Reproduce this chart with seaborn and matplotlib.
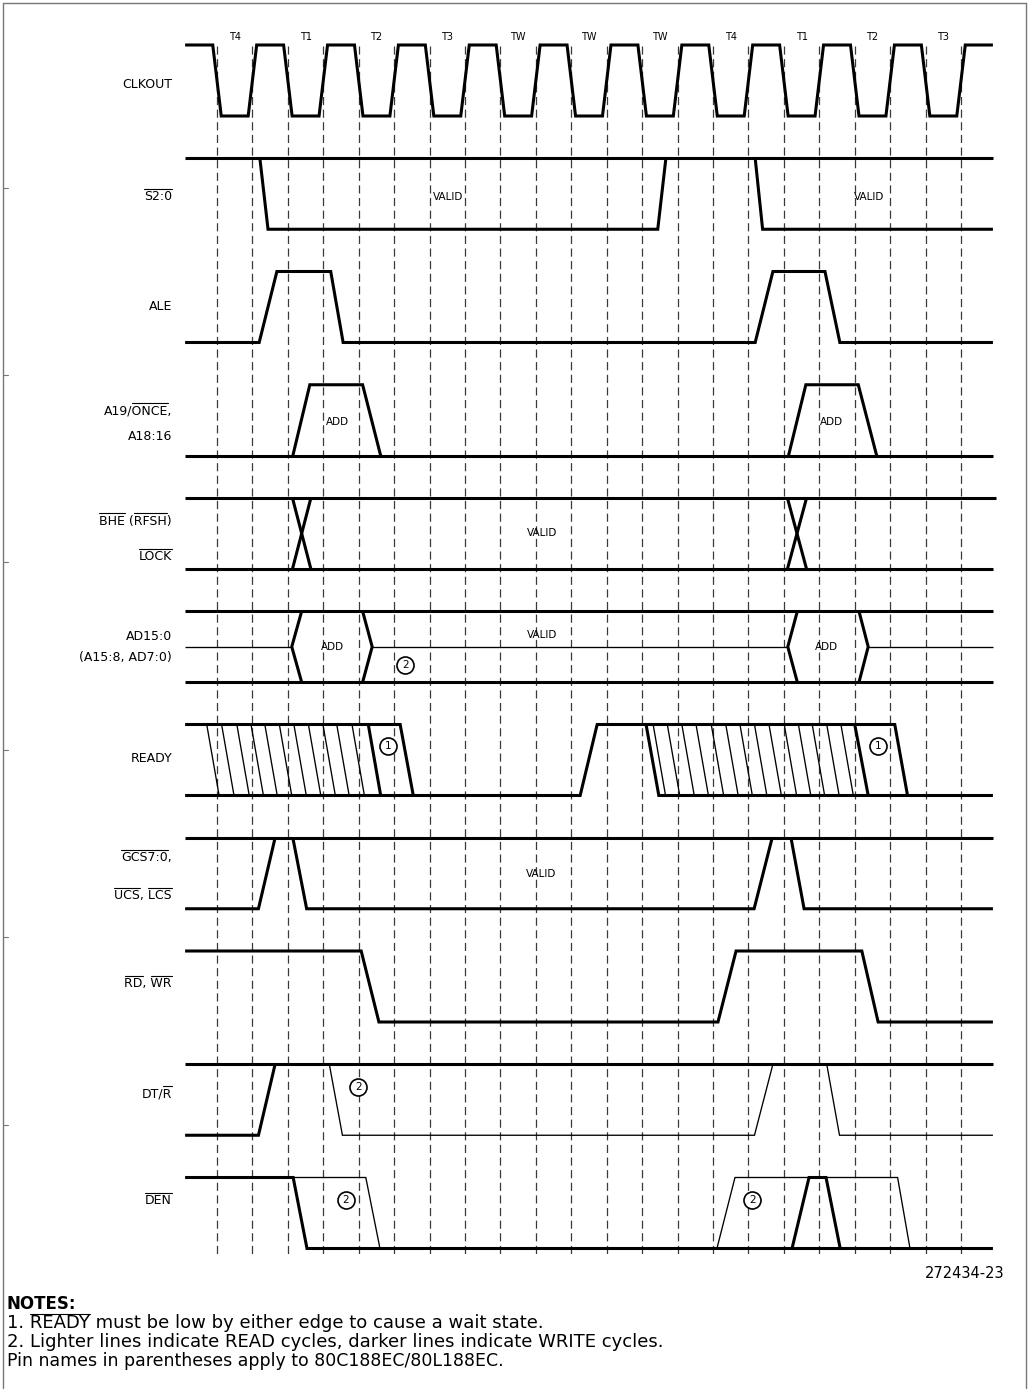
import matplotlib
matplotlib.use("Agg")
import matplotlib.pyplot as plt
import matplotlib.transforms as mtransforms
from matplotlib.lines import Line2D
import pandas as pd
import seaborn as sns

W, H = 1029, 1391

# ------------------------------------------------------------
# time axis in half clock periods, 0 = first dashed line
# ------------------------------------------------------------
T_START, T_END = -0.9, 21.9
DASHED_AT = [0, 1, 2, 3, 4, 5, 6, 7, 8, 9, 10, 11, 12, 13, 14, 15, 16, 17, 18, 19, 20, 21]
CLK_EDGES = DASHED_AT
PHASE_NAMES = ["T4", "T1", "T2", "T3", "TW", "TW", "TW", "T4", "T1", "T2", "T3"]
PHASE_AT = [0.5, 2.5, 4.5, 6.5, 8.5, 10.5, 12.5, 14.5, 16.5, 18.5, 20.5]

# waveforms: segments of (t, level), level 1 = high, 0 = low, 0.5 = mid
S20_THICK = [[(T_START, 1), (T_END, 1)],
             [(1.21, 1), (1.44, 0), (12.44, 0), (12.67, 1)],
             [(15.19, 1), (15.40, 0), (T_END, 0)]]

ALE_THICK = [[(T_START, 0), (1.19, 0), (1.69, 1), (3.21, 1), (3.56, 0),
              (15.19, 0), (15.69, 1), (17.16, 1), (17.58, 0), (T_END, 0)]]

A19_THICK = [[(T_START, 0), (T_END, 0)],
             [(2.14, 0), (2.62, 1), (4.11, 1), (4.62, 0)],
             [(16.13, 0), (16.62, 1), (18.10, 1), (18.62, 0)]]

BHE_THICK = [[(T_START, 1), (22.0, 1)], [(T_START, 0), (T_END, 0)],
             [(2.13, 0), (2.65, 1)], [(2.13, 1), (2.65, 0)],
             [(16.10, 0), (16.64, 1)], [(16.10, 1), (16.64, 0)]]

AD_THICK = [[(T_START, 1), (T_END, 1)], [(T_START, 0), (T_END, 0)],
            [(2.39, 1), (2.11, 0.5), (2.39, 0)], [(4.11, 1), (4.38, 0.5), (4.11, 0)],
            [(16.38, 1), (16.11, 0.5), (16.38, 0)], [(18.12, 1), (18.38, 0.5), (18.12, 0)]]
AD_THIN = [[(T_START, 0.5), (2.11, 0.5)], [(4.38, 0.5), (16.11, 0.5)],
           [(18.38, 0.5), (T_END, 0.5)]]

READY_THICK = [[(T_START, 1), (5.17, 1), (5.54, 0)],
               [(T_START, 0), (10.25, 0), (10.73, 1), (19.13, 1), (19.49, 0)],
               [(4.27, 1), (4.62, 0)],
               [(12.11, 1), (12.47, 0), (T_END, 0)],
               [(18.00, 1), (18.38, 0)]]
READY_HATCH = [-0.29, 0.13, 0.56, 0.96, 1.35, 1.76, 2.17, 2.58, 2.99, 3.38, 3.81,
               12.31, 12.71, 13.12, 13.52, 13.95, 14.36, 14.76, 15.17, 15.58,
               16.01, 16.41, 16.80, 17.21, 17.61]

GCS_THICK = [[(T_START, 1), (T_END, 1)],
             [(T_START, 0), (1.17, 0), (1.64, 1)],
             [(2.14, 1), (2.53, 0), (15.16, 0), (15.67, 1)],
             [(16.20, 1), (16.57, 0), (T_END, 0)]]

RDWR_THICK = [[(T_START, 1), (4.07, 1), (4.57, 0), (14.14, 0), (14.65, 1),
               (18.20, 1), (18.66, 0), (T_END, 0)]]

DTR_THICK = [[(T_START, 1), (T_END, 1)], [(T_START, 0), (1.17, 0), (1.64, 1)]]
DTR_THIN = [[(3.17, 1), (3.54, 0), (15.17, 0), (15.69, 1)],
            [(17.21, 1), (17.57, 0), (T_END, 0)]]

DEN_THICK = [[(T_START, 1), (2.15, 1), (2.54, 0), (T_END, 0)],
             [(16.23, 0), (16.71, 1), (17.19, 1), (17.59, 0)]]
DEN_THIN = [[(2.15, 1), (4.20, 1), (4.60, 0)],
            [(14.11, 0), (14.62, 1), (19.21, 1), (19.56, 0)]]

# in-trace texts: (text, row, t, level)
TRACE_TEXT = [("VALID", 1, 6.52, 0.46), ("VALID", 1, 18.40, 0.46),
              ("ADD", 3, 3.39, 0.47), ("ADD", 3, 17.35, 0.47),
              ("VALID", 4, 9.17, 0.51),
              ("ADD", 5, 3.25, 0.50), ("ADD", 5, 17.21, 0.50), ("VALID", 5, 9.17, 0.67),
              ("VALID", 7, 9.16, 0.49)]

# circled note numbers: (text, row, t, level)
NOTE_MARKS = [("1", 6, 4.82, 0.70), ("1", 6, 18.65, 0.70),
              ("2", 5, 5.31, 0.24), ("2", 9, 3.99, 0.68),
              ("2", 10, 3.64, 0.69), ("2", 10, 15.11, 0.69)]

# signal names: text, overlined char ranges, y (px)
LABEL_TEXT = ["CLKOUT", "S2:0", "ALE", "A19/ONCE,", "A18:16", "BHE (RFSH)", "LOCK",
              "AD15:0", "(A15:8, AD7:0)", "READY", "GCS7:0,", "UCS, LCS",
              "RD, WR", "DT/R", "DEN"]
LABEL_BARS = [[], [(0, 4)], [], [(4, 8)], [], [(0, 3), (5, 9)], [(0, 4)],
              [], [], [], [(0, 6)], [(0, 3), (5, 8)],
              [(0, 2), (4, 6)], [(3, 4)], [(0, 3)]]
LABEL_Y = [84, 197, 307, 411, 437, 521, 557, 636, 658, 759, 858, 896, 984, 1094, 1201]

NOTES = ["1. READY must be low by either edge to cause a wait state.",
         "2. Lighter lines indicate READ cycles, darker lines indicate WRITE cycles."]
PIN_NOTE = "Pin names in parentheses apply to 80C188EC/80L188EC."
FIG_ID = "272434-23"

# ------------------------------------------------------------
# layout
# ------------------------------------------------------------
X0, DX = 217, 35.43
ROW_TOP, ROW_STEP, SWING = 45, 113.25, 71
CLK_HALF_EDGE = 0.12
HATCH_SLANT = 0.35
THICK, THIN = 2.2, 0.95


def row_y(row, level):
    return ROW_TOP + ROW_STEP * row + (1 - level) * SWING


clk = [(T_START, 1)]
lvl = 1
for e in CLK_EDGES:
    clk += [(e - CLK_HALF_EDGE, lvl), (e + CLK_HALF_EDGE, 1 - lvl)]
    lvl = 1 - lvl
clk.append((T_END, lvl))

traces = [
    (0, "thick", [clk]),
    (1, "thick", S20_THICK),
    (2, "thick", ALE_THICK),
    (3, "thick", A19_THICK),
    (4, "thick", BHE_THICK),
    (5, "thick", AD_THICK),
    (5, "thin", AD_THIN),
    (6, "thick", READY_THICK),
    (6, "thin", [[(h, 1), (h + HATCH_SLANT, 0)] for h in READY_HATCH]),
    (7, "thick", GCS_THICK),
    (8, "thick", RDWR_THICK),
    (9, "thick", DTR_THICK),
    (9, "thin", DTR_THIN),
    (10, "thick", DEN_THICK),
    (10, "thin", DEN_THIN),
]

rows = []
seg_id = 0
for row, weight, segs in traces:
    for seg in segs:
        for t, level in seg:
            rows.append({"t": t, "y": row_y(row, level), "seg": seg_id, "w": weight})
        seg_id += 1
df = pd.DataFrame(rows)

# ------------------------------------------------------------
# drawing
# ------------------------------------------------------------
sns.set_theme(style="white")
plt.rcParams["font.family"] = ["DejaVu Sans"]
plt.rcParams["text.color"] = "black"

fig = plt.figure(figsize=(W / 100, H / 100), dpi=100)
ax = fig.add_axes([0, 0, 1, 1])
px = mtransforms.Affine2D().scale(1, -1).translate(0, H)

# clock reference lines
ax.vlines(DASHED_AT, 46, 1257, colors="#3a3a3a", linewidth=0.9,
          linestyles=(0, (6.5, 3.6)), zorder=1)

for weight, lw in (("thick", THICK), ("thin", THIN)):
    sns.lineplot(data=df[df["w"] == weight], x="t", y="y", units="seg",
                 estimator=None, sort=False, color="black", linewidth=lw,
                 legend=False, ax=ax, zorder=3,
                 solid_joinstyle="miter", solid_capstyle="butt")

for name, t in zip(PHASE_NAMES, PHASE_AT):
    ax.text(t, row_y(0, 1.11), name, ha="center", va="center", fontsize=7, zorder=4)

for s, row, t, level in TRACE_TEXT:
    ax.text(t, row_y(row, level), s, ha="center", va="center", fontsize=7.5, zorder=4)

mk = pd.DataFrame({"t": [m[2] for m in NOTE_MARKS],
                   "y": [row_y(m[1], m[3]) for m in NOTE_MARKS]})
sns.scatterplot(data=mk, x="t", y="y", s=150, facecolor="white",
                edgecolor="black", linewidth=1.2, ax=ax, zorder=5, legend=False)
for s, row, t, level in NOTE_MARKS:
    ax.text(t, row_y(row, level), s, ha="center", va="center", fontsize=7.5, zorder=6)

ax.set_xlim(-X0 / DX, (W - X0) / DX)
ax.set_ylim(H, 0)
ax.set_axis_off()

renderer = fig.canvas.get_renderer()


def text_width(s, **kw):
    tmp = fig.text(0, 0, s, transform=px, **kw)
    w = tmp.get_window_extent(renderer).width
    tmp.remove()
    return w


def put_text(x, y, s, bars, ha="right", gap=2.0, **kw):
    txt = fig.text(x, y, s, transform=px, ha=ha, va="center", **kw)
    bb = txt.get_window_extent(renderer)
    full = bb.width
    left = x - full if ha == "right" else x
    top = H - bb.y1 - gap
    for a, b in bars:
        x0 = left + full - text_width(s[a:], **kw)
        x1 = left + text_width(s[:b], **kw)
        fig.add_artist(Line2D([x0, x1], [top, top], transform=px,
                              color="black", linewidth=0.8))


for s, bars, y in zip(LABEL_TEXT, LABEL_BARS, LABEL_Y):
    put_text(172, y, s, bars, fontsize=9)

# frame of the page
frame_col = "#777777"
fig.add_artist(Line2D([3, 3], [3, 1388], transform=px, color=frame_col, lw=1.0))
fig.add_artist(Line2D([3, 1026], [3, 3], transform=px, color=frame_col, lw=1.0))
fig.add_artist(Line2D([1026, 1026], [3, 1388], transform=px, color=frame_col, lw=1.0))
for yy in (188, 375, 562, 750, 937, 1125):
    fig.add_artist(Line2D([3, 8], [yy, yy], transform=px, color=frame_col, lw=0.8))

# notes
note_font = dict(family=["DejaVu Sans"])
fig.text(1005, 1273, FIG_ID, transform=px, ha="right", va="center", fontsize=10.5, **note_font)
fig.text(7, 1304, "NOTES:", transform=px, ha="left", va="center", fontsize=12,
         fontweight="bold", **note_font)
put_text(7, 1323, NOTES[0], [(3, 8)], ha="left", gap=0.5, fontsize=13, **note_font)
put_text(7, 1342, NOTES[1], [], ha="left", fontsize=13, **note_font)
put_text(7, 1361, PIN_NOTE, [], ha="left", fontsize=12.5, **note_font)

fig.savefig("out.png", dpi=100)
